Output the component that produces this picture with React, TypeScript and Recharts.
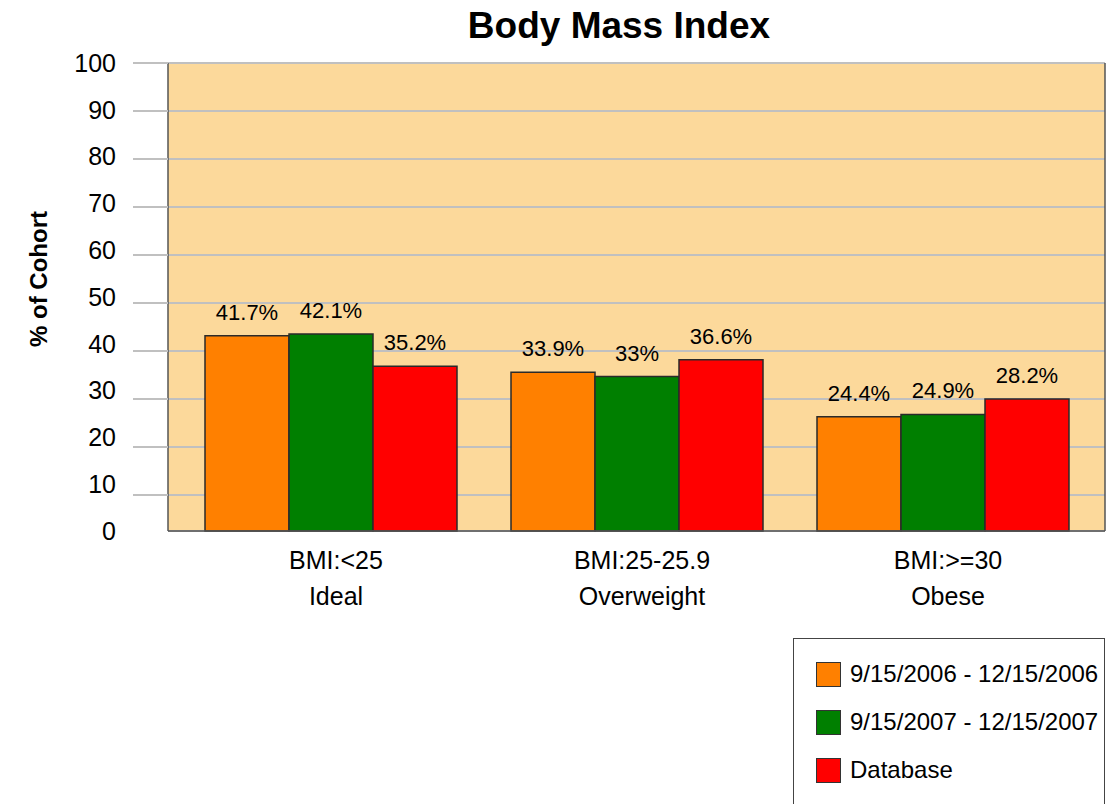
import { BarChart, Bar, XAxis, YAxis, CartesianGrid, Legend, LabelList, Label } from 'recharts';

const categories = ['BMI:<25', 'BMI:25-25.9', 'BMI:>=30'];
const subLabels = ['Ideal', 'Overweight', 'Obese'];
const period2006 = [41.7, 33.9, 24.4];
const period2007 = [42.1, 33, 24.9];
const databaseValues = [35.2, 36.6, 28.2];
const yTicks = [0, 10, 20, 30, 40, 50, 60, 70, 80, 90, 100];
const gridTicks = [10, 20, 30, 40, 50, 60, 70, 80, 90, 100];

const seriesNames = ['9/15/2006 - 12/15/2006', '9/15/2007 - 12/15/2007', 'Database'];
const seriesKeys = ['p2006', 'p2007', 'db'];
const seriesColors = ['#FF8000', '#007F00', '#FF0000'];

const data = categories.map((cat, i) => ({
    cat,
    p2006: period2006[i],
    p2007: period2007[i],
    db: databaseValues[i],
}));

const FONT = '"Liberation Sans", Arial, sans-serif';

const CategoryTick = ({ x, y, index }: any) => (
    <g>
        <text x={x + 5} y={y + 38} textAnchor="middle" fontSize={25} fill="#000">
            {categories[index]}
        </text>
        <text x={x + 5} y={y + 74} textAnchor="middle" fontSize={25} fill="#000">
            {subLabels[index]}
        </text>
    </g>
);

const LegendBox = ({ payload }: any) => (
    <div
        style={{
            boxSizing: 'border-box',
            width: 312,
            height: 180,
            border: '1.5px solid #444',
            background: '#fff',
            paddingTop: 11,
        }}
    >
        {(payload || []).map((item: any) => (
            <div key={item.value} style={{ display: 'flex', alignItems: 'center', height: 48 }}>
                <span
                    style={{
                        boxSizing: 'border-box',
                        width: 25,
                        height: 25,
                        marginLeft: 22,
                        marginRight: 9,
                        background: item.color,
                        border: '1px solid #333',
                    }}
                />
                <span style={{ fontSize: 24, color: '#000' }}>{item.value}</span>
            </div>
        ))}
    </div>
);

const App = () => {
    return (
        <div
            style={{
                position: 'absolute',
                left: 0,
                top: 0,
                width: 1106,
                height: 804,
                overflow: 'hidden',
                background: '#fff',
                fontFamily: FONT,
            }}
        >
            <BarChart
                width={1106}
                height={804}
                data={data}
                margin={{ top: 63, right: 0, bottom: 193, left: 0 }}
                barGap={0}
            >
                <CartesianGrid
                    yAxisId="grid"
                    vertical={false}
                    horizontalPoints={undefined}
                    stroke="#C0C0C0"
                    strokeWidth={2}
                    fill="#FCD99B"
                    fillOpacity={1}
                />
                <XAxis
                    dataKey="cat"
                    height={80}
                    padding={{ left: 10, right: 9 }}
                    axisLine={{ stroke: '#555', strokeWidth: 1.5 }}
                    tickLine={false}
                    tickSize={0}
                    tickMargin={0}
                    interval={0}
                    tick={<CategoryTick />}
                />
                <YAxis
                    yAxisId="grid"
                    orientation="left"
                    type="number"
                    domain={[2.5, 100]}
                    allowDataOverflow
                    ticks={gridTicks}
                    interval={0}
                    width={35}
                    tickSize={35}
                    tickLine={{ stroke: '#C0C0C0', strokeWidth: 2 }}
                    axisLine={{ stroke: '#555', strokeWidth: 1.5 }}
                    tick={() => <g />}
                />
                <YAxis
                    yAxisId="val"
                    orientation="left"
                    domain={[0, 100]}
                    ticks={yTicks}
                    interval={0}
                    width={133}
                    axisLine={false}
                    tickLine={false}
                    tickSize={0}
                    tickMargin={17}
                    tick={{ fontSize: 25, fill: '#000' }}
                >
                    <Label
                        content={() => (
                            <text
                                x={38}
                                y={279}
                                transform="rotate(-90, 38, 279)"
                                textAnchor="middle"
                                dominantBaseline="central"
                                fontSize={24}
                                fontWeight="bold"
                                fill="#000"
                            >
                                % of Cohort
                            </text>
                        )}
                    />
                </YAxis>
                <YAxis
                    yAxisId="r"
                    orientation="right"
                    domain={[0, 100]}
                    width={1}
                    tick={false}
                    tickLine={false}
                    axisLine={{ stroke: '#555', strokeWidth: 1.5 }}
                >
                    <Label
                        content={() => (
                            <text
                                x={619}
                                y={38}
                                textAnchor="middle"
                                fontSize={37}
                                fontWeight="bold"
                                fill="#000"
                            >
                                Body Mass Index
                            </text>
                        )}
                    />
                </YAxis>
                <Legend
                    layout="vertical"
                    align="center"
                    verticalAlign="middle"
                    wrapperStyle={{ left: 793, top: 638, width: 312, height: 180 }}
                    content={<LegendBox />}
                />
                {seriesKeys.map((key, i) => (
                    <Bar
                        key={key}
                        yAxisId="val"
                        dataKey={key}
                        name={seriesNames[i]}
                        fill={seriesColors[i]}
                        stroke="#2a2a2a"
                        strokeWidth={1.5}
                        barSize={84}
                        isAnimationActive={false}
                    >
                        <LabelList
                            dataKey={key}
                            position="top"
                            offset={16}
                            fontSize={22}
                            fill="#000"
                            formatter={(v: any) => `${v}%`}
                        />
                    </Bar>
                ))}
            </BarChart>
        </div>
    );
};

export default App;
